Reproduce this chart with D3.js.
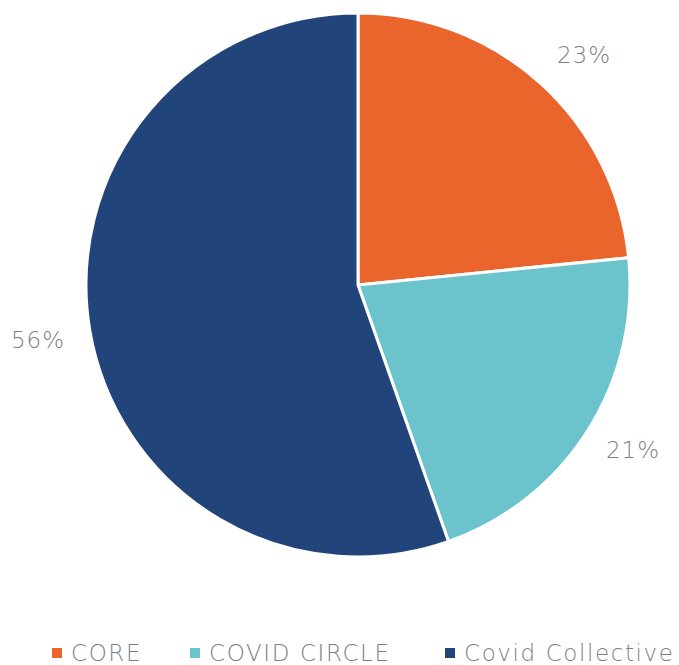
<!DOCTYPE html>
<html><head><meta charset="utf-8">
<script src="https://cdn.jsdelivr.net/npm/d3@7"></script>
<style>body{margin:0;background:#fff}svg{display:block}</style>
</head><body>
<script>
const categories = ["CORE", "COVID CIRCLE", "Covid Collective"];
const values = [23.4, 21.2, 55.4];
const labels = ["23%", "21%", "56%"];
const colors = ["#E9652B", "#6BC4CB", "#21447A"];

const W = 679, H = 665;
const svg = d3.select("body").append("svg").attr("width", W).attr("height", H);
const cx = 358, cy = 285, R = 272;
const font = "'DejaVu Sans', 'Open Sans', sans-serif";

const pie = d3.pie().sort(null).value(d => d.v);
const data = pie(categories.map((c, i) => ({c, v: values[i], l: labels[i], col: colors[i]})));
const arc = d3.arc().innerRadius(0).outerRadius(R);
const g = svg.append("g").attr("transform", `translate(${cx},${cy})`);
g.selectAll("path").data(data).join("path")
  .attr("d", arc).attr("fill", d => d.data.col)
  .attr("stroke", "#fff").attr("stroke-width", 3).attr("stroke-linejoin", "round");

const labelPos = [[584, 55], [633, 450], [38, 340]];
g.selectAll("text").data(data).join("text")
  .attr("x", (d, i) => labelPos[i][0] - cx)
  .attr("y", (d, i) => labelPos[i][1] - cy)
  .attr("text-anchor", "middle").attr("dominant-baseline", "central")
  .attr("font-family", font).attr("font-weight", 200).attr("font-size", 23)
  .attr("letter-spacing", 1)
  .attr("fill", "#7f7f7f").text(d => d.data.l);

const legX = [52, 190, 445];
const lg = svg.append("g");
categories.forEach((c, i) => {
  lg.append("rect").attr("x", legX[i]).attr("y", 648).attr("width", 10).attr("height", 10).attr("fill", colors[i]);
  lg.append("text").attr("x", legX[i] + 19).attr("y", 661)
    .attr("font-family", font).attr("font-weight", 200).attr("font-size", 23)
    .attr("letter-spacing", 1.6)
    .attr("fill", "#7f7f7f").text(c);
});
</script>
</body></html>
